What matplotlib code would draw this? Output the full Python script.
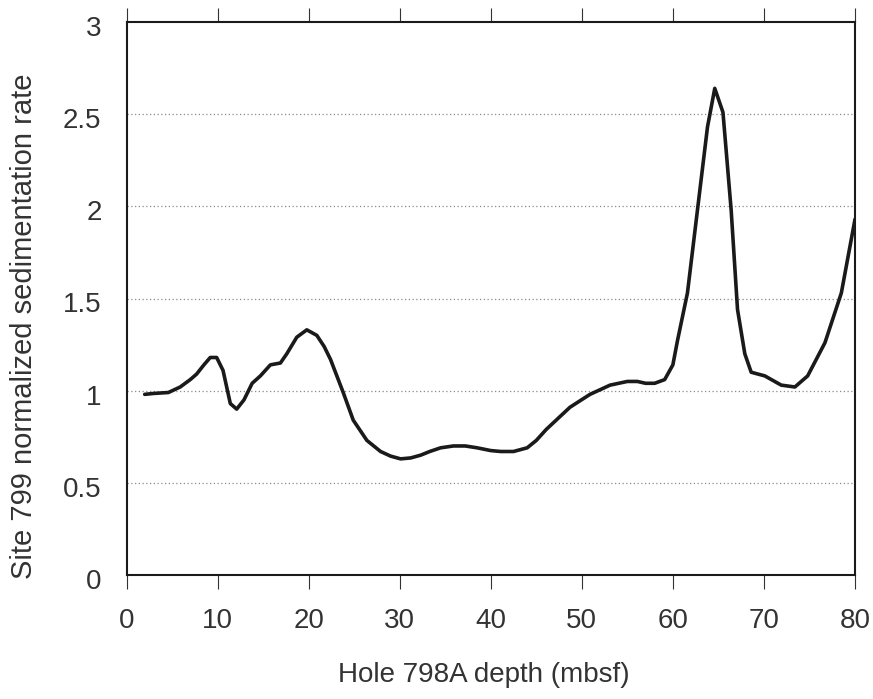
import matplotlib
matplotlib.use("Agg")
import matplotlib.pyplot as plt
from matplotlib.transforms import ScaledTranslation

depth = [2.0, 3.0, 4.6, 5.9, 7.0, 7.7, 8.5, 9.2, 9.9, 10.6, 11.0, 11.4, 12.1, 12.9,
         13.8, 14.7, 15.8, 16.9, 17.6, 18.7, 19.8, 20.9, 21.7, 22.4, 23.8, 24.9,
         26.4, 27.9, 29.0, 30.1, 31.2, 32.3, 33.3, 34.5, 35.9, 37.2, 38.5, 40.0,
         41.1, 42.5, 44.0, 45.0, 46.1, 47.4, 48.7, 50.9, 53.1, 55.0, 56.1, 57.0,
         58.0, 59.1, 60.0, 60.5, 61.6, 62.7, 63.8, 64.6, 65.5, 66.4, 67.1, 67.9,
         68.6, 70.1, 71.9, 73.4, 74.8, 76.7, 78.5, 80.0]
rate = [0.98, 0.985, 0.99, 1.02, 1.06, 1.09, 1.14, 1.18, 1.18, 1.11, 1.02, 0.93, 0.90, 0.95,
        1.04, 1.08, 1.14, 1.15, 1.20, 1.29, 1.33, 1.30, 1.24, 1.17, 0.99, 0.84,
        0.73, 0.67, 0.645, 0.63, 0.635, 0.65, 0.67, 0.69, 0.70, 0.70, 0.69, 0.675,
        0.67, 0.67, 0.69, 0.73, 0.79, 0.85, 0.91, 0.98, 1.03, 1.05, 1.05, 1.04,
        1.04, 1.06, 1.14, 1.27, 1.53, 1.98, 2.43, 2.64, 2.51, 1.98, 1.44, 1.20,
        1.10, 1.08, 1.03, 1.02, 1.08, 1.26, 1.53, 1.93]

xticks = [0, 10, 20, 30, 40, 50, 60, 70, 80]
yticks = [0, 0.5, 1, 1.5, 2, 2.5, 3]
ytick_labels = ["0", "0.5", "1", "1.5", "2", "2.5", "3"]

plt.rcParams['font.family'] = ['Liberation Sans', 'DejaVu Sans']

W, H = 873, 699
fig = plt.figure(figsize=(W / 100, H / 100), dpi=100)
ax = fig.add_axes([126.5 / W, 1 - 575 / H, (855 - 126.5) / W, (575 - 22) / H])

for y in yticks[1:-1]:
    ax.axhline(y, color='#8a8a8a', linestyle=(0, (1, 2)), linewidth=0.9, zorder=1)

ax.plot(depth, rate, color='#1a1a1a', linewidth=2.6, solid_joinstyle='round',
        solid_capstyle='round', zorder=3)

ax.set_xlim(0, 80)
ax.set_ylim(0, 3)
ax.set_xticks(xticks)
ax.set_xticklabels([str(t) for t in xticks])
ax.set_yticks(yticks)
ax.set_yticklabels(ytick_labels)

for s in ax.spines.values():
    s.set_linewidth(1.5)
    s.set_color('#1a1a1a')

ax.tick_params(axis='x', which='both', direction='out', length=10, width=0.8,
               top=True, bottom=True, labelsize=20, pad=14, colors='#333333')
ax.tick_params(axis='y', which='both', direction='out', length=0, width=0.8,
               labelsize=20, pad=18, colors='#333333')
off = ScaledTranslation(0, -4 / 100, fig.dpi_scale_trans)
for lab in ax.get_yticklabels():
    lab.set_transform(lab.get_transform() + off)

fig.text(484 / W, 1 - 682 / H, 'Hole 798A depth (mbsf)', fontsize=20,
         color='#333333', ha='center', va='baseline')
fig.text(24 / W, 1 - 326 / H, 'Site 799 normalized sedimentation rate', fontsize=21,
         color='#333333', ha='center', va='center', rotation=90)

fig.savefig('out.png', dpi=100)
